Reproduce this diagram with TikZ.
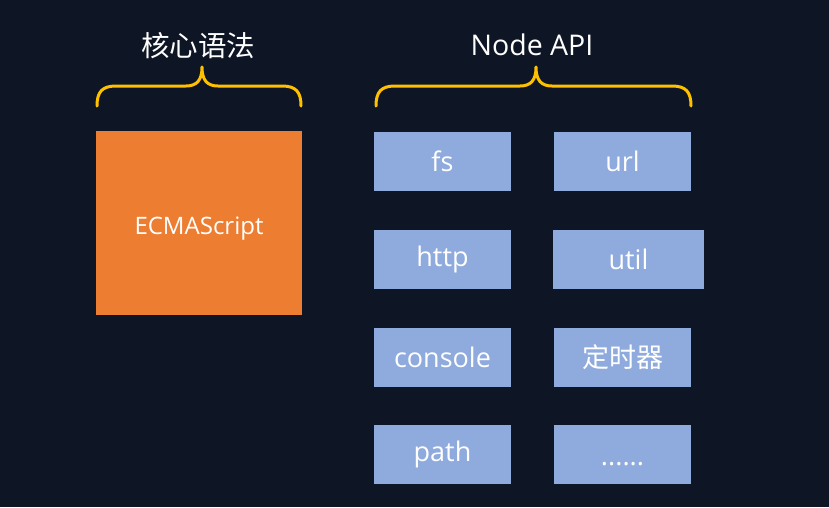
\documentclass[tikz,border=0pt]{standalone}
\usepackage{fontspec}
\setmainfont{Open Sans}
\newfontfamily\cjk{Noto Sans CJK SC}
\definecolor{bg}{HTML}{0E1524}
\definecolor{boxblue}{HTML}{8FAADC}
\definecolor{boxorange}{HTML}{ED7D31}
\definecolor{braceyellow}{HTML}{FFC000}
\begin{document}
\begin{tikzpicture}[x=1pt,y=-1pt,
  apibox/.style={draw=none,fill=boxblue,minimum width=137pt,minimum height=59pt,inner sep=0pt,text=white,font=\fontsize{27}{32}\selectfont},
  corebox/.style={draw=none,fill=boxorange,minimum width=206pt,minimum height=184pt,inner sep=0pt,text=white,font=\fontsize{24}{28}\selectfont},
  title/.style={text=white,inner sep=0pt,font=\fontsize{28.5}{34}\selectfont},
  bracestyle/.style={draw=braceyellow,line width=3pt,line cap=round,line join=round}]
\fill[bg] (0,0) rectangle (829,507);
\useasboundingbox (0,0) rectangle (829,507);
% titles
\node[title] (core) at (198,46) {\cjk 核心语法};
\node[title] (api) at (532,45) {Node API};
% core box
\node[corebox,text height=25pt,text depth=2.5pt] (ecma) at (199,223) {ECMAScript};
% api boxes
\node[apibox] (fs) at (442.5,161.5) {fs};
\node[apibox] (url) at (622.5,161.5) {url};
\node[apibox] (http) at (442.5,259) {http};
\node[apibox,minimum width=151pt] (util) at (628.5,259) {util};
\node[apibox] (console) at (442.5,357) {console};
\node[apibox] (timer) at (622.5,357) {\cjk 定时器};
\node[apibox] (path) at (442.5,454.5) {path};
\node[apibox,text height=22pt,text depth=0pt] (more) at (622.5,454.5) {......};
% braces
\coordinate (lb0) at (97,106);
\coordinate (lbm) at (202,67);
\coordinate (lb1) at (301,106);
\draw[bracestyle] (lb0) .. controls (97,92) and (102,86) .. (116,86) -- (186,86)
  .. controls (197,86) and (202,80) .. (lbm)
  .. controls (202,80) and (207,86) .. (218,86) -- (282,86)
  .. controls (296,86) and (301,92) .. (lb1);
\coordinate (rb0) at (376,106);
\coordinate (rbm) at (536,67);
\coordinate (rb1) at (691,106);
\draw[bracestyle] (rb0) .. controls (376,92) and (381,86) .. (395,86) -- (520,86)
  .. controls (531,86) and (536,80) .. (rbm)
  .. controls (536,80) and (541,86) .. (552,86) -- (672,86)
  .. controls (686,86) and (691,92) .. (rb1);
\end{tikzpicture}
\end{document}
